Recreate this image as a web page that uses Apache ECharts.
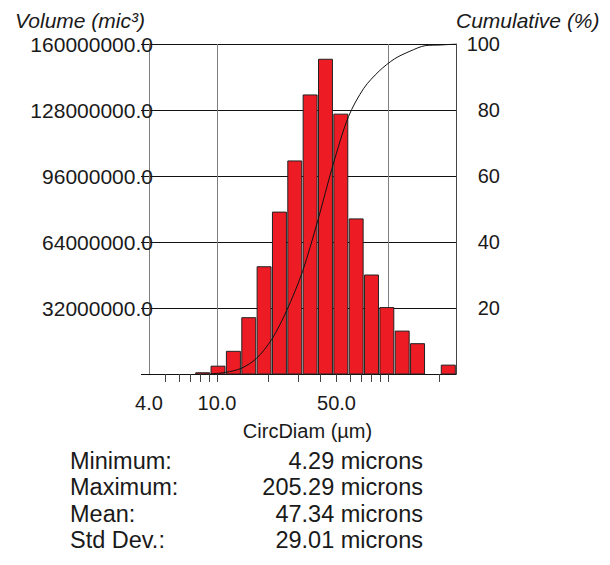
<!DOCTYPE html>
<html><head><meta charset="utf-8">
<script src="https://cdn.jsdelivr.net/npm/echarts@6/dist/echarts.min.js"></script>
<style>html,body{margin:0;padding:0;background:#fff}#c{width:610px;height:565px}</style>
</head><body><div id="c"></div>
<script>
// Histogram bins (log-equal bin edges in microns)
const binEdges = [4.00, 4.92, 6.05, 7.44, 9.14, 11.24, 13.83, 17.00, 20.90, 25.70, 31.60, 38.86, 47.78, 58.75, 72.24, 88.83, 109.2, 134.3, 165.2, 203.1, 250];
// Volume per bin (mic^3)
const volumes = [0, 0, 0, 0.6e6, 3.8e6, 11.0e6, 27.3e6, 52.0e6, 78.5e6, 103.3e6, 135.3e6, 152.6e6, 126.0e6, 75.2e6, 48.0e6, 32.2e6, 20.8e6, 14.7e6, 0, 4.3e6];
// Cumulative curve (%)
const cumX = [9.14, 11.24, 13.83, 17.00, 20.90, 25.70, 31.60, 38.86, 47.78, 58.75, 72.24, 88.83, 109.2, 134.3, 165.2, 203.1, 250];
const cumPct = [0, 0.5, 1.7, 4.7, 10.5, 19.5, 31, 46.5, 63.5, 78, 86.6, 91.8, 95.5, 97.8, 99.5, 99.7, 100];
// Axis ticks / labels
const xTickValues = [5, 6, 7, 8, 9, 10, 20, 30, 40, 50, 60, 70, 80, 90, 100, 200];
const xLabelValues = [4, 10, 50];
const volMax = 160000000, volInterval = 32000000;
const pctMax = 100, pctInterval = 20;
// Statistics
const statNames = ['Minimum:', 'Maximum:', 'Mean:', 'Std Dev.:'];
const statValues = ['4.29 microns', '205.29 microns', '47.34 microns', '29.01 microns'];

const FONT = '"Liberation Sans", Arial, sans-serif';
const TXT = '#1a1a1a';

const barData = [];
for (let i = 0; i < volumes.length; i++) {
  if (volumes[i] > 0) barData.push([binEdges[i], binEdges[i + 1], volumes[i]]);
}
const lineData = cumX.map((x, i) => [x, cumPct[i]]);

const statGraphics = [];
const statY = [461, 487, 514, 540];
statNames.forEach((n, i) => {
  statGraphics.push({ type: 'text', style: { text: n, x: 70, y: statY[i], align: 'left', textAlign: 'left', verticalAlign: 'middle', textVerticalAlign: 'middle', fill: TXT, font: '23.5px ' + FONT } });
  statGraphics.push({ type: 'text', style: { text: statValues[i], x: 423, y: statY[i], align: 'right', textAlign: 'right', verticalAlign: 'middle', textVerticalAlign: 'middle', fill: TXT, font: '23.5px ' + FONT } });
});

const chart = echarts.init(document.getElementById('c'), null, { renderer: 'svg' });
chart.setOption({
  animation: false,
  backgroundColor: '#fff',
  grid: { left: 149, top: 44, width: 307, height: 330, containLabel: false },
  xAxis: [{
    type: 'log', logBase: 10, min: 4, max: 250,
    name: 'CircDiam (µm)', nameLocation: 'middle', nameGap: 57,
    nameTextStyle: { fontFamily: FONT, fontSize: 20, color: TXT, verticalAlign: 'middle', padding: [0, 0, 0, 10] },
    axisLine: { show: true, lineStyle: { color: '#111', width: 1 } },
    axisTick: { show: true, customValues: xTickValues, length: 8, lineStyle: { color: '#444' } },
    axisLabel: { show: true, customValues: xLabelValues, margin: 19, fontFamily: FONT, fontSize: 20, color: TXT, formatter: v => Number(v).toFixed(1) },
    splitLine: { show: false }
  }, {
    type: 'log', logBase: 10, min: 4, max: 250, position: 'top',
    axisLine: { show: false }, axisTick: { show: false }, axisLabel: { show: false },
    splitLine: { show: true, lineStyle: { color: '#7f7f7f', width: 1 } }
  }],
  yAxis: [{
    type: 'value', min: 0, max: volMax, interval: volInterval, position: 'left',
    name: 'Volume (mic³)', nameLocation: 'end', nameGap: 24,
    nameTextStyle: { fontFamily: FONT, fontSize: 21, fontStyle: 'italic', color: TXT, align: 'right', verticalAlign: 'middle', padding: [0, 4, 0, 0] },
    axisLine: { show: true, lineStyle: { color: '#7f7f7f' } },
    axisTick: { show: true, length: 8, lineStyle: { color: '#111' } },
    axisLabel: { margin: -4, fontFamily: FONT, fontSize: 21, color: TXT, formatter: v => v === 0 ? '' : Number(v).toFixed(1) },
    splitLine: { show: true, lineStyle: { color: '#111', width: 1 } }
  }, {
    type: 'value', min: 0, max: pctMax, interval: pctInterval, position: 'right',
    name: 'Cumulative (%)', nameLocation: 'end', nameGap: 24,
    nameTextStyle: { fontFamily: FONT, fontSize: 21, fontStyle: 'italic', color: TXT, align: 'left', verticalAlign: 'middle' },
    axisLine: { show: true, lineStyle: { color: '#444' } },
    axisTick: { show: false },
    axisLabel: { margin: 44, align: 'right', fontFamily: FONT, fontSize: 20, color: TXT, formatter: v => v === 0 ? '' : String(v) },
    splitLine: { show: false }
  }],
  series: [{
    type: 'custom', xAxisIndex: 0, yAxisIndex: 0, z: 3,
    encode: { x: [0, 1], y: 2 },
    data: barData,
    renderItem: function (params, api) {
      const p0 = api.coord([api.value(0), 0]);
      const p1 = api.coord([api.value(1), api.value(2)]);
      return {
        type: 'rect',
        shape: { x: p0[0] + 0.7, y: p1[1], width: p1[0] - p0[0] - 1.4, height: p0[1] - p1[1] },
        style: { fill: '#ed1c24', stroke: '#222', lineWidth: 1 }
      };
    }
  }, {
    type: 'line', xAxisIndex: 0, yAxisIndex: 1, z: 4,
    data: lineData, showSymbol: false, smooth: 0.3,
    lineStyle: { color: '#111', width: 1 }
  }],
  graphic: statGraphics
});
</script></body></html>
